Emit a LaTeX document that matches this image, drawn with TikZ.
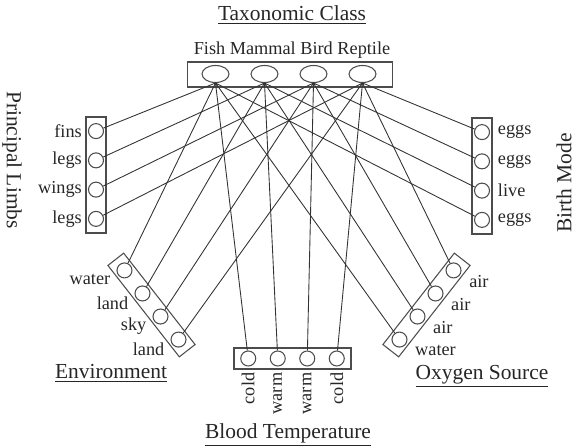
\documentclass[tikz,border=0pt]{standalone}
\usepackage{fontspec}
\setmainfont{Liberation Serif}
\usepackage{tikz}
\usetikzlibrary{shapes,positioning,calc}

\begin{document}
\begin{tikzpicture}[
    x=0.02cm, y=-0.02cm,
    font=\fontsize{10.4}{12}\selectfont,
    every node/.style={text=black!85},
    box/.style={rectangle, draw=black!70, line width=0.6pt, inner sep=0pt, minimum width=0.4cm, minimum height=2.32cm},
    cls/.style={ellipse, draw=black!70, line width=0.6pt, inner sep=0pt, minimum width=0.54cm, minimum height=0.34cm},
    val/.style={circle, draw=black!70, line width=0.6pt, inner sep=0pt, minimum size=0.3cm},
    caption/.style={font=\fontsize{12.2}{14}\selectfont},
    envlabel/.style={yshift=-0.19cm},
    oxylabel/.style={yshift=-0.22cm, xshift=0.03cm},
    link/.style={draw=black!80, line width=0.5pt}
]
    \useasboundingbox (0,0) rectangle (574,448);

    % class node on top
    \node[caption] (classtitle) at (292,15) {\underline{Taxonomic Class}};
    \node (classnames) at (292,50) {Fish Mammal Bird Reptile};
    \node[box, minimum width=4.1cm, minimum height=0.5cm] (classes) at (290,74.5) {};
    \node[cls] (fish) at (215.5,74) {};
    \node[cls] (mammal) at (264.5,74) {};
    \node[cls] (bird) at (313.5,74) {};
    \node[cls] (reptile) at (362.5,74) {};

    % principal limbs
    \node[caption, rotate=-90, inner sep=0pt] (limbtitle) at (12,160) {Principal Limbs};
    \node[box] (limbs) at (96,175) {};
    \node[val, label=left:fins] (fishlimb) at ($(limbs.north)!.125!(limbs.south)$) {};
    \node[val, label=left:legs] (mammallimb) at ($(limbs.north)!.375!(limbs.south)$) {};
    \node[val, label=left:wings] (birdlimb) at ($(limbs.north)!.625!(limbs.south)$) {};
    \node[val, label=left:legs] (reptilelimb) at ($(limbs.north)!.875!(limbs.south)$) {};

    % birth mode
    \node[caption, rotate=90, inner sep=0pt] (birthtitle) at (564,183) {Birth Mode};
    \node[box] (birth) at (482,176) {};
    \node[val, label={[label distance=1pt]right:eggs}] (reptilebirth) at ($(birth.north)!.125!(birth.south)$) {};
    \node[val, label={[label distance=1pt]right:eggs}] (birdbirth) at ($(birth.north)!.375!(birth.south)$) {};
    \node[val, label={[label distance=1pt]right:live}] (mammalbirth) at ($(birth.north)!.625!(birth.south)$) {};
    \node[val, label={[label distance=1pt]right:eggs}] (fishbirth) at ($(birth.north)!.875!(birth.south)$) {};

    % environment
    \node[caption] (envtitle) at (111,373) {\underline{Environment}};
    \node[box, rotate=38] (environment) at (151.5,305) {};
    \node[val, label={[envlabel]left:water}] (fishenv) at ($(environment.north)!.125!(environment.south)$) {};
    \node[val, label={[envlabel]left:land}] (mammalenv) at ($(environment.north)!.375!(environment.south)$) {};
    \node[val, label={[envlabel]left:sky}] (birdenv) at ($(environment.north)!.625!(environment.south)$) {};
    \node[val, label={[envlabel]left:land}] (reptileenv) at ($(environment.north)!.875!(environment.south)$) {};

    % oxygen source
    \node[caption] (oxytitle) at (482,376) {\underline{Oxygen Source}};
    \node[box, rotate=-38] (oxygen) at (426.5,305) {};
    \node[val, label={[oxylabel]right:air}] (reptileoxy) at ($(oxygen.north)!.125!(oxygen.south)$) {};
    \node[val, label={[oxylabel]right:air}] (birdoxy) at ($(oxygen.north)!.375!(oxygen.south)$) {};
    \node[val, label={[oxylabel]right:air}] (mammaloxy) at ($(oxygen.north)!.625!(oxygen.south)$) {};
    \node[val, label={[oxylabel]right:water}] (fishoxy) at ($(oxygen.north)!.875!(oxygen.south)$) {};

    % blood temperature
    \node[caption] (bloodtitle) at (288,435) {\underline{Blood Temperature}};
    \node[box, minimum width=2.34cm, minimum height=0.42cm] (blood) at (292.5,358.5) {};
    \node[val, label={[rotate=90, anchor=east]below:cold}] (fishblood) at ($(blood.west)!.125!(blood.east)$) {};
    \node[val, label={[rotate=90, anchor=east]below:warm}] (mammalblood) at ($(blood.west)!.375!(blood.east)$) {};
    \node[val, label={[rotate=90, anchor=east]below:warm}] (birdblood) at ($(blood.west)!.625!(blood.east)$) {};
    \node[val, label={[rotate=90, anchor=east]below:cold}] (reptileblood) at ($(blood.west)!.875!(blood.east)$) {};

    % links from each class to its values
    \draw[link] (fishlimb) -- (fish.south) (fishbirth) -- (fish.south)
        (fishenv) -- (fish.south) (fishoxy) -- (fish.south) (fishblood) -- (fish.south);
    \draw[link] (mammallimb) -- (mammal.south) (mammalbirth) -- (mammal.south)
        (mammalenv) -- (mammal.south) (mammaloxy) -- (mammal.south) (mammalblood) -- (mammal.south);
    \draw[link] (birdlimb) -- (bird.south) (birdbirth) -- (bird.south)
        (birdenv) -- (bird.south) (birdoxy) -- (bird.south) (birdblood) -- (bird.south);
    \draw[link] (reptilelimb) -- (reptile.south) (reptilebirth) -- (reptile.south)
        (reptileenv) -- (reptile.south) (reptileoxy) -- (reptile.south) (reptileblood) -- (reptile.south);
\end{tikzpicture}
\end{document}
